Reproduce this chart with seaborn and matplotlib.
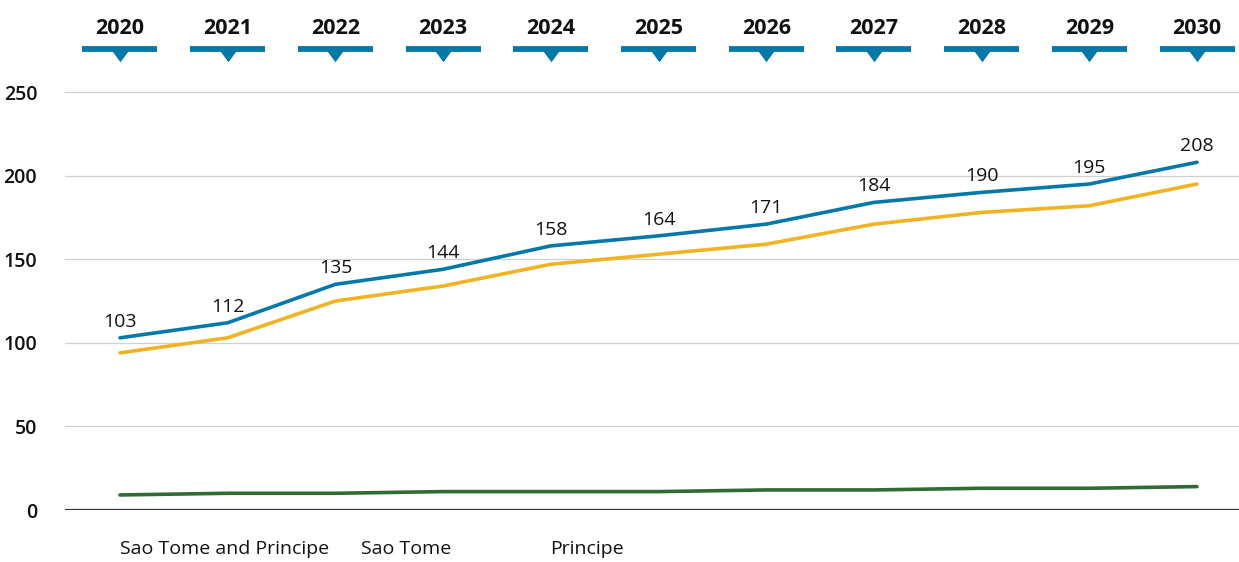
import matplotlib
matplotlib.use("Agg")
import matplotlib.pyplot as plt
import matplotlib.transforms as mtransforms
import seaborn as sns
import pandas as pd

years = [2020, 2021, 2022, 2023, 2024, 2025, 2026, 2027, 2028, 2029, 2030]
total = [103, 112, 135, 144, 158, 164, 171, 184, 190, 195, 208]
sao_tome = [94, 103, 125, 134, 147, 153, 159, 171, 178, 182, 195]
principe = [9, 10, 10, 11, 11, 11, 12, 12, 13, 13, 14]
series_names = ["Sao Tome and Principe", "Sao Tome", "Principe"]
yticks = [0, 50, 100, 150, 200, 250]

colors = {"Sao Tome and Principe": "#0578A8", "Sao Tome": "#F1B324", "Principe": "#2F6B32"}

df = pd.DataFrame({
    "year": years * 3,
    "value": total + sao_tome + principe,
    "series": [series_names[0]] * len(years) + [series_names[1]] * len(years) + [series_names[2]] * len(years),
})

sns.set_theme(style="white")
plt.rcParams["font.family"] = ["Open Sans", "DejaVu Sans"]

fig = plt.figure(figsize=(12.39, 5.62), dpi=100)
ax = fig.add_axes([65 / 1239, 52 / 562, 1174 / 1239, 443 / 562])

sns.lineplot(data=df, x="year", y="value", hue="series", hue_order=series_names,
             palette=colors, linewidth=2.6, ax=ax, legend=False, zorder=3)

ax.set_xlim(2020 - 55 / 107.7, 2030 + 42 / 107.7)
ax.set_ylim(0, 265)
ax.set_yticks(yticks)
ax.set_yticklabels([str(v) for v in yticks], fontsize=14, fontweight="semibold", color="#111111")
ax.tick_params(axis="y", length=0, pad=20)
ax.set_xticks([])
ax.set_xlabel("")
ax.set_ylabel("")
for s in ax.spines.values():
    s.set_visible(False)
for v in yticks[1:]:
    ax.axhline(v, color="#D0D0D0", linewidth=0.9, zorder=1)
ax.axhline(0, color="#333333", linewidth=1.6, zorder=2)

# data labels on total line
for x, v in zip(years, total):
    ax.annotate(str(v), (x, v), xytext=(0, 5), textcoords="offset points",
                ha="center", va="bottom", fontsize=14, color="#111111")

# year headers above plot
trans = mtransforms.blended_transform_factory(ax.transData, fig.transFigure)
half = 37.5 / 107.7
tri = [(-1, 0.675), (1, 0.675), (0, -0.675)]
for x in years:
    ax.text(x, 1 - 28 / 562, str(x), transform=trans, ha="center", va="center",
            fontsize=15.5, fontweight="bold", color="#111111", clip_on=False)
    ax.plot([x - half, x + half], [1 - 48.5 / 562, 1 - 48.5 / 562], transform=trans,
            color="#0578A8", linewidth=4.2, solid_capstyle="butt", clip_on=False)
    ax.plot([x], [1 - 55.25 / 562], transform=trans, marker=tri, markersize=14.4,
            color="#0578A8", markeredgewidth=0, clip_on=False)

# legend labels (text only)
for name, px in zip(series_names, [120, 361, 550]):
    fig.text(px / 1239, 1 - 549 / 562, name, ha="left", va="center",
             fontsize=14, color="#111111")

fig.savefig("out.png", dpi=100)
